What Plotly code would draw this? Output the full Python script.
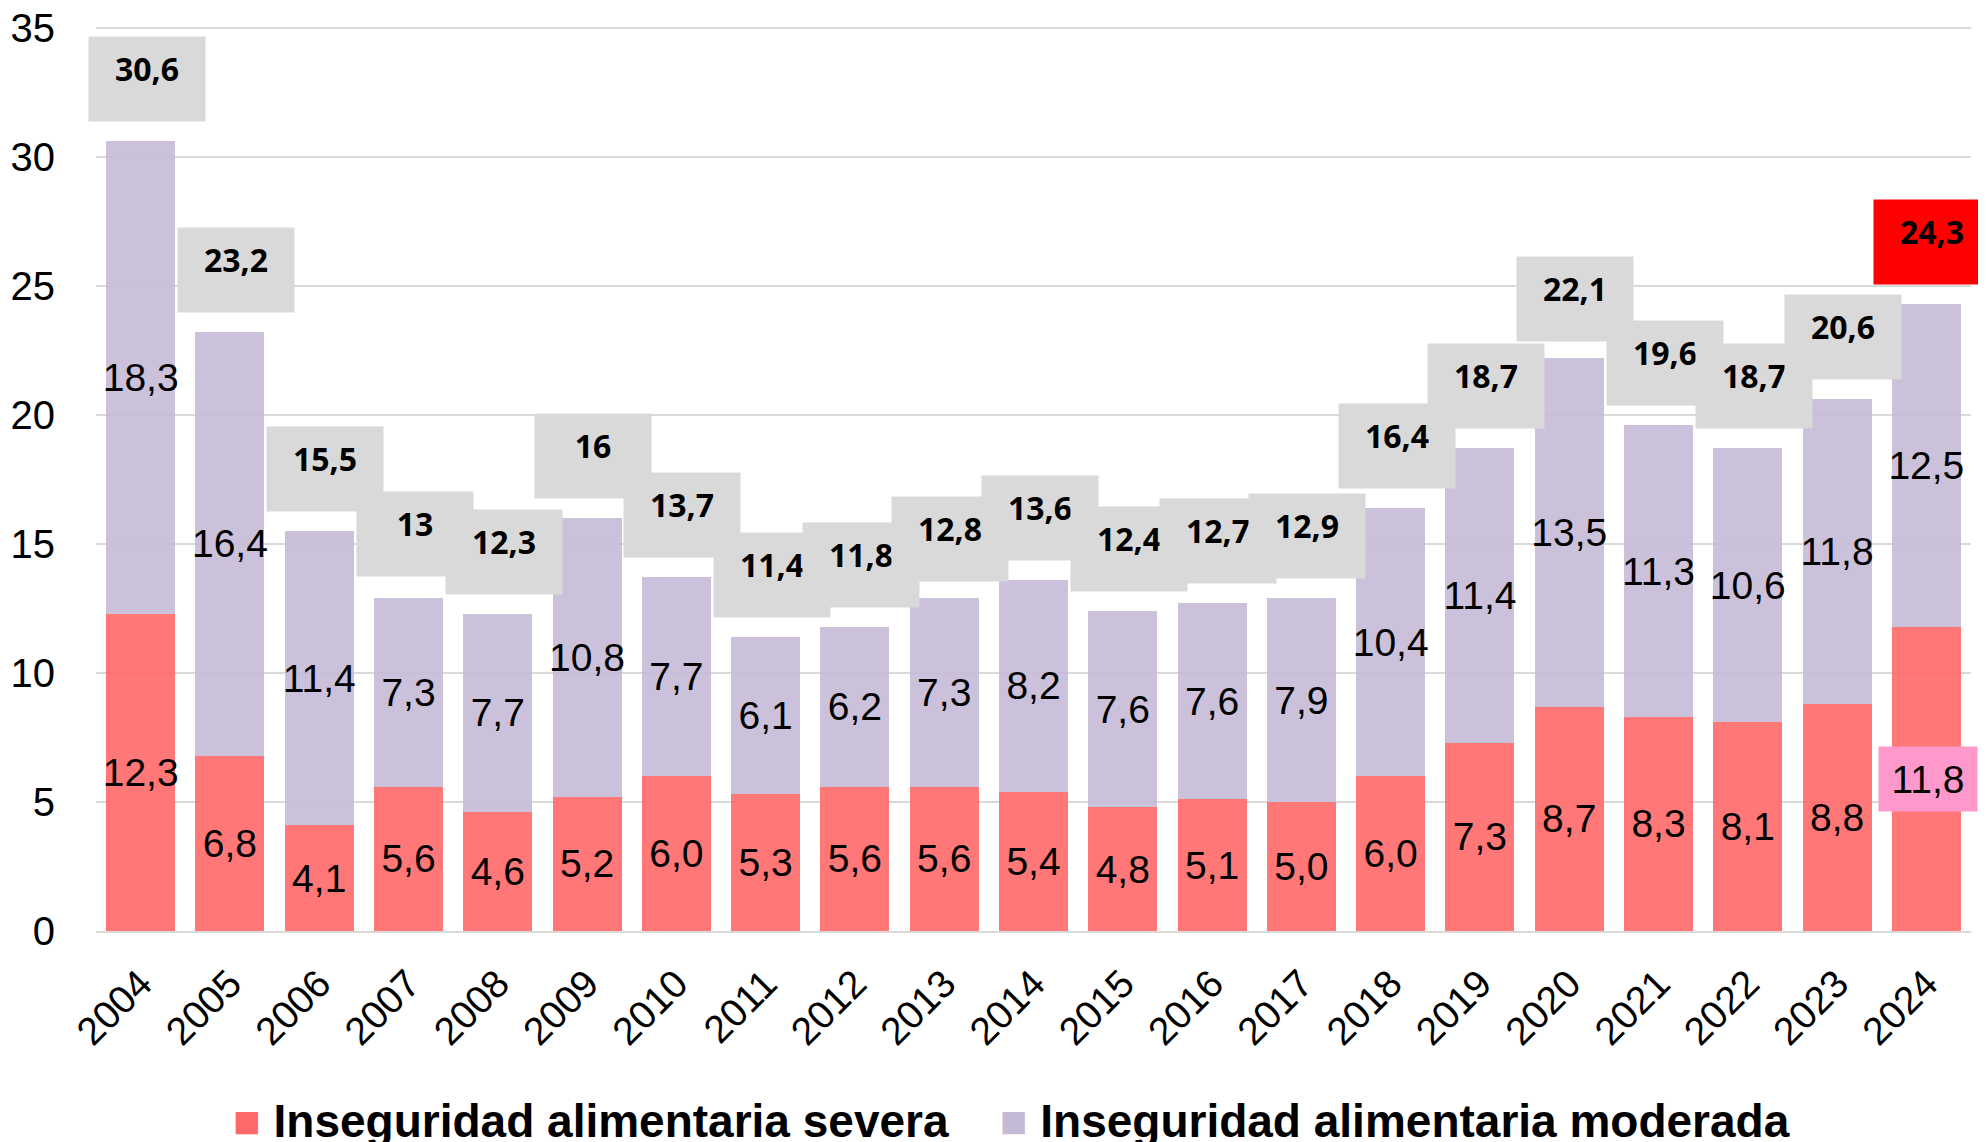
import plotly.graph_objects as go

years = [str(y) for y in range(2004, 2025)]
severa = [12.3, 6.8, 4.1, 5.6, 4.6, 5.2, 6.0, 5.3, 5.6, 5.6, 5.4, 4.8, 5.1, 5.0, 6.0, 7.3, 8.7, 8.3, 8.1, 8.8, 11.8]
moderada = [18.3, 16.4, 11.4, 7.3, 7.7, 10.8, 7.7, 6.1, 6.2, 7.3, 8.2, 7.6, 7.6, 7.9, 10.4, 11.4, 13.5, 11.3, 10.6, 11.8, 12.5]
totales = [30.6, 23.2, 15.5, 13, 12.3, 16, 13.7, 11.4, 11.8, 12.8, 13.6, 12.4, 12.7, 12.9, 16.4, 18.7, 22.1, 19.6, 18.7, 20.6, 24.3]
y_ticks = [0, 5, 10, 15, 20, 25, 30, 35]
serie_names = ["Inseguridad alimentaria severa", "Inseguridad alimentaria moderada"]

RED = "#FF6868"
PURPLE = "#C5BAD6"
LBL_FONT = "Liberation Sans, Arial, sans-serif"


def fmt1(v):
    return f"{v:.1f}".replace(".", ",")


def fmtg(v):
    return ("%g" % v).replace(".", ",")


sev_text = [fmt1(v) for v in severa]
sev_text[-1] = ""  # highlighted separately
mod_text = [fmt1(v) for v in moderada]

common = dict(textposition="inside", insidetextanchor="middle", textangle=0,
              textfont=dict(family=LBL_FONT, size=39, color="black"),
              constraintext="none", showlegend=False)

fig = go.Figure()
fig.add_trace(go.Bar(x=years, y=severa, name=serie_names[0],
                     marker=dict(color=RED, opacity=0.9), text=sev_text, **common))
fig.add_trace(go.Bar(x=years, y=moderada, name=serie_names[1],
                     marker=dict(color=PURPLE, opacity=0.9), text=mod_text, **common))

annotations = []
for i, tot in enumerate(totales):
    annotations.append(dict(
        x=i, y=tot, xref="x", yref="y", text=f"<b>{fmtg(tot)}</b>",
        showarrow=False, xanchor="center", yanchor="bottom", xshift=6, yshift=19,
        bgcolor="#FF0000" if i == len(totales) - 1 else "#D9D9D9",
        width=96, height=64, borderpad=10, valign="top", align="center",
        font=dict(family="Open Sans, Lato, sans-serif", size=32, color="black"),
    ))

annotations.append(dict(
    x=len(years) - 1, y=severa[-1] / 2, xref="x", yref="y", text=fmt1(severa[-1]),
    showarrow=False, xanchor="center", yanchor="middle", xshift=2,
    bgcolor="#FF99CC", width=90, height=56, borderpad=4,
    font=dict(family=LBL_FONT, size=39, color="black"),
))

annotations.append(dict(
    x=0.4885, y=-0.209, xref="paper", yref="paper", showarrow=False,
    xanchor="center", yanchor="middle",
    text=(f"<span style='color:{RED}'>■</span> <b>{serie_names[0]}</b>"
          f"&nbsp;&nbsp;&nbsp;&nbsp;<span style='color:{PURPLE}'>■</span> <b>{serie_names[1]}</b>"),
    font=dict(family=LBL_FONT, size=46, color="black"),
))

# the page adds an 8px body margin, so the figure is drawn 8px smaller
fig.update_layout(
    template="none",
    width=1978, height=1134,
    margin=dict(l=88, r=15, t=16, b=211),
    barmode="stack", bargap=0.227,
    plot_bgcolor="white", paper_bgcolor="white",
    annotations=annotations,
    showlegend=False,
)
fig.update_xaxes(
    type="category", range=[-0.5, len(years) - 0.5], autorange=False, automargin=False,
    tickangle=-45, showgrid=False, showline=True, linecolor="#D9D9D9", linewidth=2,
    tickfont=dict(family=LBL_FONT, size=39, color="black"), ticks="", ticklabelstandoff=12,
)
fig.update_yaxes(
    range=[0, 35.15], autorange=False, automargin=False, tickvals=y_ticks,
    showgrid=True, gridcolor="#D9D9D9", gridwidth=2, showline=False,
    zeroline=False, tickfont=dict(family=LBL_FONT, size=40, color="black"),
    ticks="", ticklabelstandoff=40, ticklabeloverflow="allow",
)

fig.write_html("out.html")
